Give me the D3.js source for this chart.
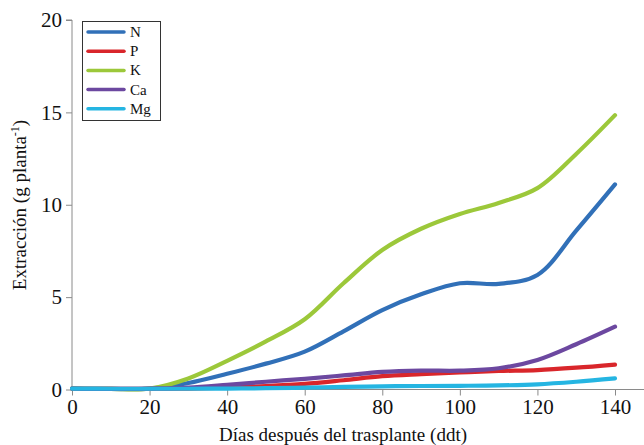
<!DOCTYPE html>
<html><head><meta charset="utf-8">
<script src="https://cdn.jsdelivr.net/npm/d3@7"></script>
<style>body{margin:0;background:#fff}svg{display:block}svg text{font-family:"Liberation Serif","Times New Roman",serif}</style>
</head><body>
<svg id="c" width="644" height="445"></svg>
<script>
const days = [0,10,20,30,40,50,60,70,80,90,100,110,120,130,140];
const seriesNames = ["N","P","K","Ca","Mg"];
const seriesColors = ["#3170b8","#d9262b","#9cc83a","#6c48a0","#25b5e2"];
const N  = [0.05,0.03,0.05,0.35,0.85,1.4,2.05,3.15,4.3,5.15,5.75,5.72,6.2,8.6,11.1];
const P  = [0.05,0.03,0.04,0.05,0.1,0.18,0.3,0.5,0.72,0.83,0.92,1.0,1.05,1.18,1.35];
const K  = [0.05,0.03,0.05,0.6,1.55,2.6,3.8,5.75,7.55,8.7,9.5,10.1,10.9,12.75,14.85];
const Ca = [0.05,0.03,0.05,0.1,0.25,0.42,0.58,0.76,0.95,1.02,1.02,1.15,1.6,2.45,3.4];
const Mg = [0.05,0.04,0.04,0.04,0.05,0.07,0.1,0.14,0.17,0.19,0.2,0.22,0.28,0.42,0.6];
const seriesValues = [N,P,K,Ca,Mg];
const xTicks = [0,20,40,60,80,100,120,140];
const yTicks = [0,5,10,15,20];

const svg = d3.select("#c");
const x = d3.scaleLinear().domain([0,140]).range([72,615]);
const y = d3.scaleLinear().domain([0,20]).range([389.5,20]);
const font = "'Liberation Serif','Times New Roman',serif";
const axisColor = "#8a8a8a";

// y axis
const ya = svg.append("g").attr("transform","translate(72,0)")
  .call(d3.axisLeft(y).tickValues(yTicks).tickSize(6).tickPadding(4));
ya.select(".domain").attr("stroke",axisColor).attr("d","M-6,20H0V389.5");
ya.selectAll(".tick line").attr("stroke",axisColor);
ya.selectAll(".tick text").attr("font-family",font).attr("font-size",21).attr("fill","#111");

// x axis
const xa = svg.append("g").attr("transform","translate(0,389.5)")
  .call(d3.axisBottom(x).tickValues(xTicks).tickSize(6).tickPadding(4));
xa.select(".domain").attr("stroke",axisColor).attr("d","M72,0H644");
xa.selectAll(".tick line").attr("stroke",axisColor);
xa.selectAll(".tick text").attr("font-family",font).attr("font-size",21).attr("fill","#111");

// lines
const line = d3.line().x((d,i)=>x(days[i])).y(d=>y(d)).curve(d3.curveCatmullRom.alpha(0.5));
seriesValues.forEach((vals,k)=>{
  svg.append("path").datum(vals).attr("d",line)
    .attr("fill","none").attr("stroke",seriesColors[k])
    .attr("stroke-width",4.2).attr("stroke-linecap","round").attr("stroke-linejoin","round");
});

// legend
const lg = svg.append("g");
lg.append("rect").attr("x",82.5).attr("y",21.5).attr("width",78).attr("height",99)
  .attr("fill","#fff").attr("stroke","#333").attr("stroke-width",1);
seriesNames.forEach((n,i)=>{
  const yy = 32 + i*19.2;
  lg.append("line").attr("x1",88).attr("x2",124).attr("y1",yy).attr("y2",yy)
    .attr("stroke",seriesColors[i]).attr("stroke-width",3.5).attr("stroke-linecap","round");
  lg.append("text").attr("x",130).attr("y",yy+5).text(n)
    .attr("font-family",font).attr("font-size",15).attr("fill","#111");
});

// axis titles
svg.append("text").attr("x",343).attr("y",441).attr("text-anchor","middle")
  .attr("font-family",font).attr("font-size",19).attr("fill","#111")
  .text("Días después del trasplante (ddt)");
const yt = svg.append("text").attr("transform","translate(26,205) rotate(-90)")
  .attr("text-anchor","middle").attr("font-family",font).attr("font-size",19).attr("fill","#111");
yt.append("tspan").text("Extracción (g planta");
yt.append("tspan").text("-1").attr("font-size",12).attr("dy",-7);
yt.append("tspan").text(")").attr("dy",7);
</script>
</body></html>
